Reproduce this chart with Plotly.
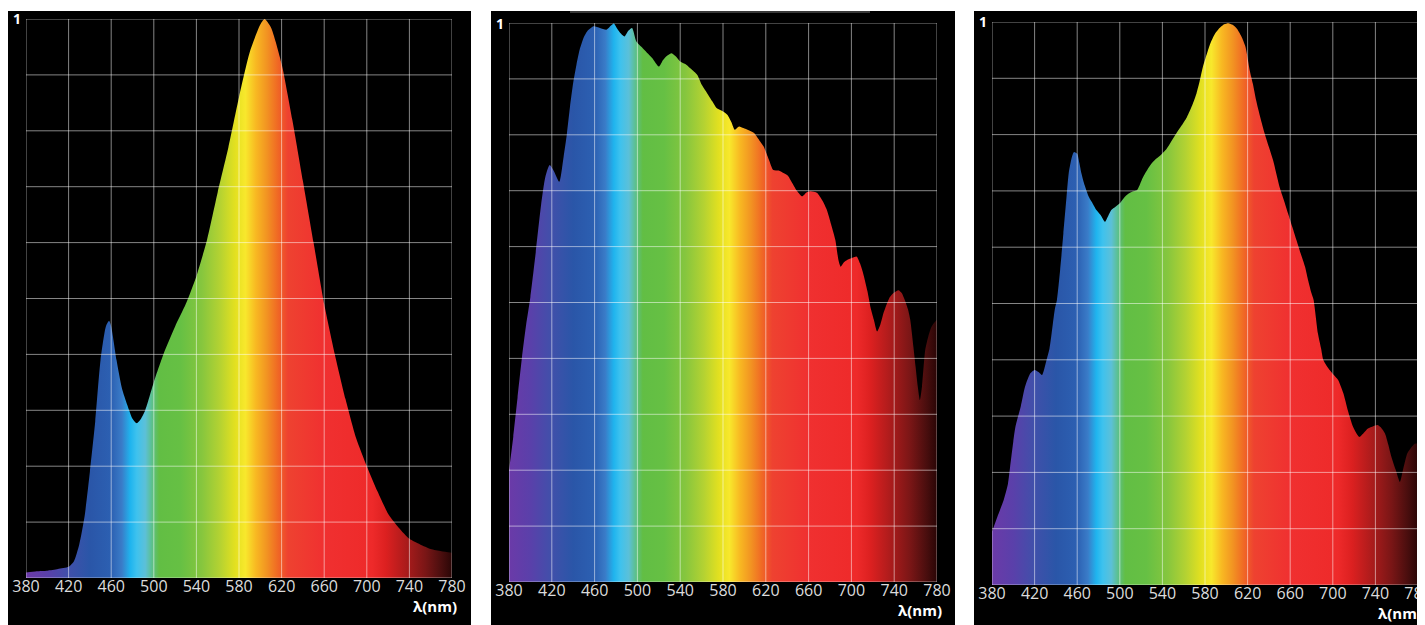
import plotly.graph_objects as go

# wavelength ticks shared by the three panels
tick_vals = [380, 420, 460, 500, 540, 580, 620, 660, 700, 740, 780]
tick_text = [str(v) for v in tick_vals]

# panel 1: warm white LED
wl1 = [380, 390, 400, 410, 420, 425, 430, 435, 440, 445, 450, 455, 458, 460, 465, 470, 475, 480,
       484, 488, 492, 500, 510, 520, 530, 540, 550, 560, 570, 580, 590, 600, 604, 610, 620, 630,
       640, 650, 660, 670, 680, 690, 700, 710, 720, 730, 740, 750, 760, 770, 780]
sp1 = [0.010, 0.012, 0.013, 0.016, 0.020, 0.030, 0.060, 0.110, 0.190, 0.280, 0.390, 0.450, 0.460,
       0.450, 0.390, 0.340, 0.310, 0.285, 0.277, 0.285, 0.300, 0.350, 0.405, 0.450, 0.490, 0.540,
       0.605, 0.690, 0.770, 0.860, 0.940, 0.990, 1.000, 0.985, 0.920, 0.820, 0.710, 0.600, 0.490,
       0.400, 0.320, 0.250, 0.200, 0.155, 0.115, 0.090, 0.070, 0.060, 0.052, 0.048, 0.045]

# panel 2: daylight-like spectrum
wl2 = [380, 384, 388, 392, 396, 400, 405, 410, 414, 418, 422, 427, 431, 434, 437, 440, 443, 446,
       450, 453, 459, 465, 471, 474, 478, 481, 484, 488, 491, 495, 499, 505, 510, 514, 520, 524,
       528, 532, 536, 540, 546, 550, 556, 560, 565, 570, 574, 579, 584, 588, 591, 595, 599, 604,
       609, 614, 618, 623, 627, 632, 637, 641, 644, 649, 654, 658, 662, 668, 673, 677, 681, 685,
       688, 690, 693, 696, 700, 705, 708, 711, 715, 718, 721, 724, 727, 730, 733, 736, 740, 744,
       747, 750, 753, 755, 758, 760, 762, 764, 766, 769, 772, 775, 778, 780]
sp2 = [0.200, 0.260, 0.330, 0.400, 0.460, 0.510, 0.590, 0.675, 0.725, 0.746, 0.735, 0.716, 0.760,
       0.800, 0.850, 0.893, 0.925, 0.952, 0.975, 0.985, 0.994, 0.991, 0.988, 0.993, 0.999, 0.990,
       0.982, 0.976, 0.985, 0.991, 0.967, 0.955, 0.945, 0.937, 0.922, 0.934, 0.942, 0.946, 0.940,
       0.931, 0.925, 0.918, 0.907, 0.890, 0.875, 0.860, 0.848, 0.843, 0.836, 0.822, 0.809, 0.815,
       0.812, 0.808, 0.803, 0.790, 0.779, 0.755, 0.737, 0.736, 0.731, 0.726, 0.716, 0.700, 0.690,
       0.697, 0.699, 0.696, 0.682, 0.666, 0.640, 0.612, 0.575, 0.564, 0.572, 0.576, 0.579, 0.582,
       0.570, 0.552, 0.520, 0.490, 0.469, 0.448, 0.460, 0.481, 0.497, 0.510, 0.518, 0.522, 0.517,
       0.504, 0.487, 0.469, 0.420, 0.385, 0.350, 0.325, 0.350, 0.415, 0.440, 0.457, 0.465, 0.469]

# panel 3: full-spectrum LED
wl3 = [380, 385, 391, 395, 397, 400, 402, 407, 411, 416, 420, 424, 427, 431, 434, 436, 439, 441,
       444, 447, 450, 452, 455, 457, 460, 462, 464, 467, 471, 475, 478, 482, 486, 489, 492, 496,
       500, 504, 508, 512, 516, 519, 522, 526, 530, 534, 538, 544, 548, 553, 558, 563, 568, 572,
       575, 578, 582, 585, 589, 593, 598, 602, 606, 610, 614, 618, 622, 625, 628, 632, 636, 640,
       644, 650, 654, 658, 662, 666, 670, 674, 677, 680, 682, 686, 689, 691, 694, 697, 701, 705,
       710, 714, 719, 722, 725, 729, 733, 738, 742, 745, 749, 752, 755, 759, 763, 766, 770, 774,
       777, 780]
sp3 = [0.095, 0.121, 0.151, 0.180, 0.210, 0.255, 0.281, 0.317, 0.352, 0.376, 0.382, 0.378, 0.373,
       0.398, 0.420, 0.447, 0.490, 0.506, 0.560, 0.624, 0.690, 0.731, 0.760, 0.769, 0.766, 0.750,
       0.731, 0.710, 0.689, 0.676, 0.666, 0.657, 0.645, 0.655, 0.666, 0.672, 0.678, 0.688, 0.695,
       0.699, 0.701, 0.712, 0.725, 0.738, 0.749, 0.757, 0.763, 0.775, 0.787, 0.802, 0.816, 0.831,
       0.852, 0.873, 0.895, 0.920, 0.945, 0.962, 0.978, 0.988, 0.996, 0.998, 0.995, 0.988, 0.975,
       0.956, 0.914, 0.890, 0.861, 0.830, 0.802, 0.778, 0.754, 0.707, 0.684, 0.660, 0.636, 0.612,
       0.588, 0.565, 0.540, 0.518, 0.506, 0.447, 0.420, 0.400, 0.390, 0.382, 0.373, 0.364, 0.340,
       0.311, 0.281, 0.270, 0.263, 0.270, 0.278, 0.282, 0.284, 0.280, 0.269, 0.250, 0.228, 0.205,
       0.183, 0.205, 0.234, 0.245, 0.251, 0.251]

# spectrum colours by wavelength
spec_wl = [380, 400, 420, 440, 460, 470, 478, 484, 492, 498, 505, 525, 545, 562, 576, 586,
           596, 606, 616, 626, 660, 705, 718, 735, 755, 770, 780]
spec_col = ["#6b3aa8", "#5a40aa", "#4050aa", "#2a56a8", "#2c60b2", "#3a7cc8", "#1fb4ee",
            "#3ec2ee", "#5cc0d8", "#5cc090", "#62be44", "#66c044", "#86c63e", "#b4d232",
            "#e2e020", "#f8e82c", "#f8b822", "#f29422", "#f06a24", "#ee4230", "#f03030",
            "#ee2a2a", "#dc2020", "#b01c1c", "#7a1616", "#4a0e0e", "#2a0606"]
colorscale = [[(w - 380) / 400, c] for w, c in zip(spec_wl, spec_col)]

W, H = 1425, 625
OFF = 8  # the page body margin pushes the figure 8px right and down
# page pixel boxes: (black left, black right, plot left, plot right, plot top, plot bottom)
panels = [
    (8, 471, 26, 452, 19, 578),
    (491, 955, 509, 937, 23, 582),
    (974, 1440, 992, 1418, 22, 585),
]
data = [(wl1, sp1), (wl2, sp2), (wl3, sp3)]


def px(x):
    return (x - OFF) / W


def py(y):
    return (H - (y - OFF)) / H


fig = go.Figure()
grid = "rgba(255,255,255,0.52)"

for i, ((bl, br, pl, pr, pt, pb), (wl, sp)) in enumerate(zip(panels, data)):
    n = "" if i == 0 else str(i + 1)
    fig.add_shape(type="rect", xref="paper", yref="paper",
                  x0=px(bl), x1=px(br), y0=-0.05, y1=py(11),
                  fillcolor="black", line_width=0, layer="below")

    fig.add_trace(go.Scatter(
        x=wl, y=sp, mode="lines", fill="tozeroy",
        line=dict(width=0, shape="spline", smoothing=0.6),
        fillgradient=dict(type="horizontal", colorscale=colorscale, start=380, stop=780),
        xaxis="x" + n, yaxis="y" + n, showlegend=False, hoverinfo="skip",
    ))

    fig.layout["xaxis" + n] = dict(
        domain=[px(pl), px(pr)], range=[380, 780], anchor="y" + n, automargin=False,
        showgrid=False, zeroline=False, showline=False,
        tickvals=tick_vals, ticktext=tick_text, ticks="", ticklabelstandoff=-3,
        tickfont=dict(family="Open Sans", size=16, color="#dcdcdc"),
    )
    fig.layout["yaxis" + n] = dict(
        domain=[py(pb), py(pt)], range=[0, 1], anchor="x" + n, automargin=False,
        showgrid=False, zeroline=False, showline=False, showticklabels=False,
    )

    # grid drawn above the filled spectrum, like the instrument display
    for v in tick_vals:
        fig.add_shape(type="line", xref="x" + n, yref="y" + n, x0=v, x1=v, y0=0, y1=1,
                      line=dict(color=grid, width=1), layer="above")
    for k in range(11):
        fig.add_shape(type="line", xref="x" + n, yref="y" + n, x0=380, x1=780, y0=k / 10, y1=k / 10,
                      line=dict(color=grid, width=1), layer="above")

    fig.add_annotation(text="<b>1</b>", xref="paper", yref="paper",
                       x=px(bl + 3), y=py(pt), xanchor="left", yanchor="middle",
                       showarrow=False, font=dict(family="Open Sans", size=14, color="white"))
    fig.add_annotation(text="<b>λ(nm)</b>", xref="paper", yref="paper",
                       x=px(min(pr + 7, 1424)), y=py(pb + 28), xanchor="right", yanchor="middle",
                       showarrow=False, font=dict(family="Open Sans", size=15, color="white"))

# faint frame edge seen at the top of the middle panel
fig.add_shape(type="line", xref="paper", yref="paper", x0=px(570), x1=px(870),
              y0=py(12), y1=py(12), line=dict(color="#3a3a3a", width=2), layer="below")

fig.update_layout(
    width=W, height=H,
    margin=dict(l=0, r=0, t=0, b=0),
    paper_bgcolor="white",
    plot_bgcolor="black",
)

fig.write_html("out.html")
